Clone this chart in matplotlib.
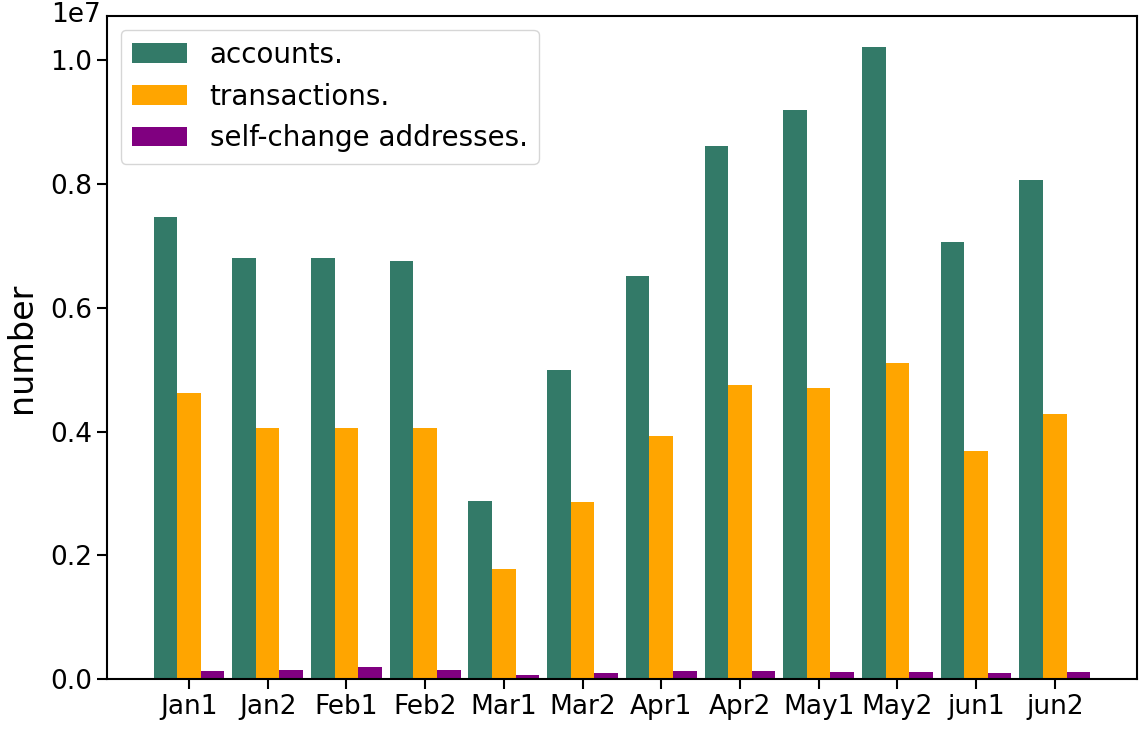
import matplotlib
matplotlib.use("Agg")
import matplotlib.pyplot as plt
import numpy as np

categories = ["Jan1", "Jan2", "Feb1", "Feb2", "Mar1", "Mar2",
              "Apr1", "Apr2", "May1", "May2", "jun1", "jun2"]
accounts = [7.46e6, 6.80e6, 6.80e6, 6.75e6, 2.88e6, 5.00e6,
            6.52e6, 8.61e6, 9.19e6, 10.21e6, 7.06e6, 8.06e6]
transactions = [4.63e6, 4.06e6, 4.06e6, 4.06e6, 1.78e6, 2.86e6,
                3.92e6, 4.76e6, 4.71e6, 5.11e6, 3.69e6, 4.29e6]
self_change = [1.29e5, 1.46e5, 1.94e5, 1.46e5, 0.70e5, 0.97e5,
               1.29e5, 1.29e5, 1.13e5, 1.13e5, 0.97e5, 1.13e5]

fig = plt.figure(figsize=(11.44, 7.34), dpi=100)
ax = fig.add_axes([0.0933, 0.0749, 0.9006, 0.9037])

x = np.arange(len(categories))
w = 0.3
ax.bar(x - w, accounts, w, color="#337a68", label="accounts.")
ax.bar(x, transactions, w, color="#ffa500", label="transactions.")
ax.bar(x + w, self_change, w, color="#800080", label="self-change addresses.")

ax.set_xticks(x)
ax.set_xticklabels(categories)
ax.tick_params(labelsize=19, width=1.5, length=7)
off = ax.yaxis.get_offset_text()
off.set_fontsize(19)
off.set_horizontalalignment("right")
off.set_verticalalignment("center_baseline")
off.set_x(-0.006)
ax.set_ylabel("number", fontsize=24, labelpad=9)
for s in ax.spines.values():
    s.set_linewidth(1.5)
ax.legend(loc="upper left", fontsize=20)

fig.savefig("out.png", dpi=100)
